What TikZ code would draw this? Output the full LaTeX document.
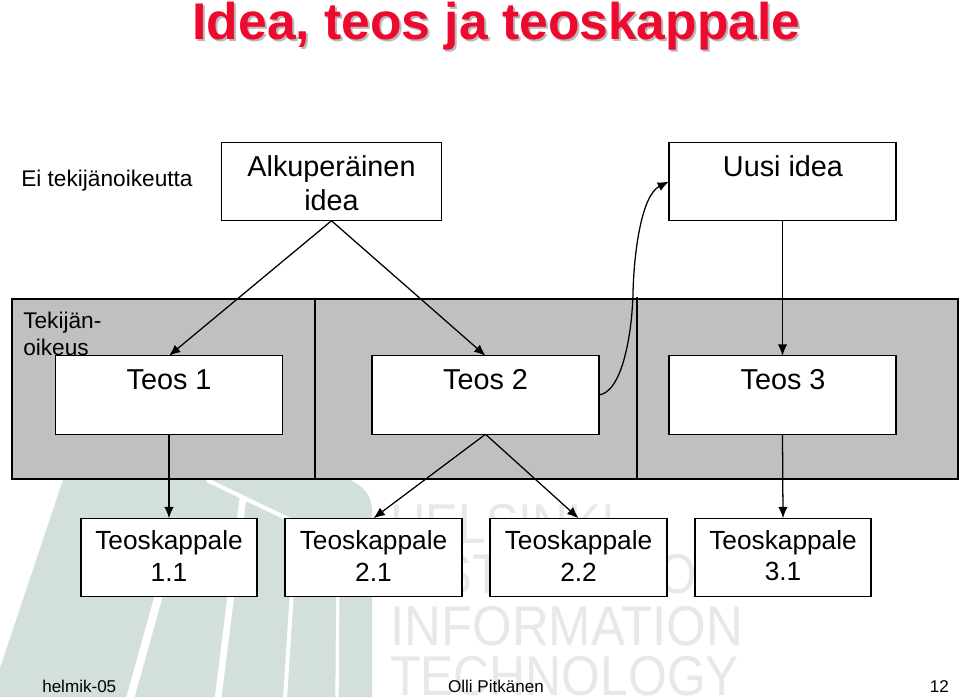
\documentclass[tikz,border=0pt]{standalone}
\usepackage{fontspec}
\setmainfont{Liberation Sans}
\usetikzlibrary{arrows.meta}
\definecolor{logogreen}{HTML}{D3E0DA}
\definecolor{wmgrey}{HTML}{E6E9E8}
\definecolor{panelgrey}{HTML}{C0C0C0}
\definecolor{titlered}{HTML}{EE0A2E}
\definecolor{titleshadow}{HTML}{B9B9B9}
\tikzset{
  x=0.75pt,y=-0.75pt,
  boxnode/.style={draw=black,fill=white,line width=0.9pt,minimum width=#1*0.75pt,minimum height=78.5*0.75pt,inner sep=0pt,outer sep=0pt},
  boxnode/.default=227,
  lab/.style={font=\fontsize{21.6}{25.5}\selectfont,inner sep=0pt,align=center,text=black},
  klab/.style={font=\fontsize{19.7}{23.3}\selectfont,inner sep=0pt,align=center,text=black},
  smalllab/.style={font=\fontsize{17}{20}\selectfont,inner sep=0pt,anchor=base west,text=black},
  foot/.style={font=\fontsize{12.8}{16}\selectfont,inner sep=0pt,anchor=base,text=black},
  link/.style={draw=black,line width=0.95pt,-{Latex[length=8.5pt,width=7pt]}},
  wm/.style={inner sep=0pt,anchor=base west,text=wmgrey,font=\fontsize{42}{46}\selectfont},
  gap/.style={draw=white},
  titletext/.style={inner sep=0pt,anchor=base,font=\fontsize{38.7}{42}\bfseries\selectfont}
}
\begin{document}
\begin{tikzpicture}
\useasboundingbox (0,0) rectangle (960,699);
\fill[white] (0,0) rectangle (960,699);
% logo
\fill[logogreen] (63,480) -- (350,480) .. controls (362,485) and (372,495) .. (372,510) -- (372,697) -- (0,697) -- (0,668) -- cycle;
\draw[gap,line width=6pt] (130,699) -- (170,555);
\draw[gap,line width=5pt] (218,699) -- (243,498);
\draw[gap,line width=3pt] (285,699) -- (294,560);
\draw[gap,line width=2.5pt] (337,699) -- (338,560);
\draw[gap,line width=3pt] (207,480) -- (290,520);
% watermark
\node[wm] (w1) at (390,543) {\scalebox{0.88}[1]{HELSINKI}};
\node[wm] (w2) at (390,593) {\scalebox{0.88}[1]{INSTITUTE OF}};
\node[wm] (w3) at (390,645) {\scalebox{0.91}[1]{INFORMATION}};
\node[wm] (w4) at (390,695) {\scalebox{0.89}[1]{TECHNOLOGY}};
% panel
\node[draw=black,fill=panelgrey,line width=0.9pt,minimum width=946*0.75pt,minimum height=180*0.75pt,inner sep=0pt,outer sep=0pt] (panel) at (485,389) {};
\coordinate (d1t) at (315,299);
\coordinate (d2t) at (637,297);
\draw[line width=0.9pt] (d1t) -- (d1t |- panel.south);
\draw[line width=0.9pt] (d2t) -- (d2t |- panel.south);
% title
\node[titletext,text=titleshadow] (titleshadow) at (498.5,41.5) {Idea, teos ja teoskappale};
\node[titletext,text=titlered] (title) at (496.5,39.5) {Idea, teos ja teoskappale};
% side labels
\node[smalllab] (ei) at (21,186) {Ei tekijänoikeutta};
\node[smalllab] (tk1) at (23,328) {Tekijän-};
\node[smalllab] (tk2) at (23,355) {oikeus};
% boxes
\node[boxnode=219.5] (alk) at (331.5,181.5) {};
\node[boxnode] (uusi) at (782.5,181.5) {};
\node[boxnode] (t1) at (169,395) {};
\node[boxnode] (t2) at (485.5,395) {};
\node[boxnode] (t3) at (782.5,395) {};
\node[boxnode=176] (k11) at (169,557.5) {};
\node[boxnode=177] (k21) at (373.5,557.5) {};
\node[boxnode=177] (k22) at (578.5,557.5) {};
\node[boxnode=176] (k31) at (783,557.5) {};
% box texts
\node[lab] (alkt) at (331.5,183) {Alkuperäinen\\idea};
\node[lab] (uusit) at (783,166) {Uusi idea};
\node[lab] (t1t) at (169,380) {Teos 1};
\node[lab] (t2t) at (485.5,380) {Teos 2};
\node[lab] (t3t) at (783,380) {Teos 3};
\node[klab] (k11t) at (169,556) {Teoskappale\\1.1};
\node[klab] (k21t) at (373.5,556) {Teoskappale\\2.1};
\node[klab] (k22t) at (578.5,556) {Teoskappale\\2.2};
\node[klab] (k31t) at (783,556) {Teoskappale\\3.1};
% connectors
\draw[link] (alk.south) -- (t1.north);
\draw[link] (alk.south) -- (t2.north);
\draw[link] (uusi.south) -- (t3.north);
\draw[link] (t1.south) -- (k11.north);
\draw[link] (t2.south) -- (k21.north);
\draw[link] (t2.south) -- (k22.north);
\draw[link] (t3.south) -- (k31.north);
\coordinate (cm) at (633,293);
\draw[link] (t2.east) .. controls (622,392) and (632,335) .. (cm) .. controls (634,250) and (642,195) .. (uusi.west);
% footer
\node[foot,anchor=base west] (f1) at (42,692) {helmik-05};
\node[foot] (f2) at (496,692) {Olli Pitkänen};
\node[foot,anchor=base east] (f3) at (949,692) {12};
\end{tikzpicture}
\end{document}
